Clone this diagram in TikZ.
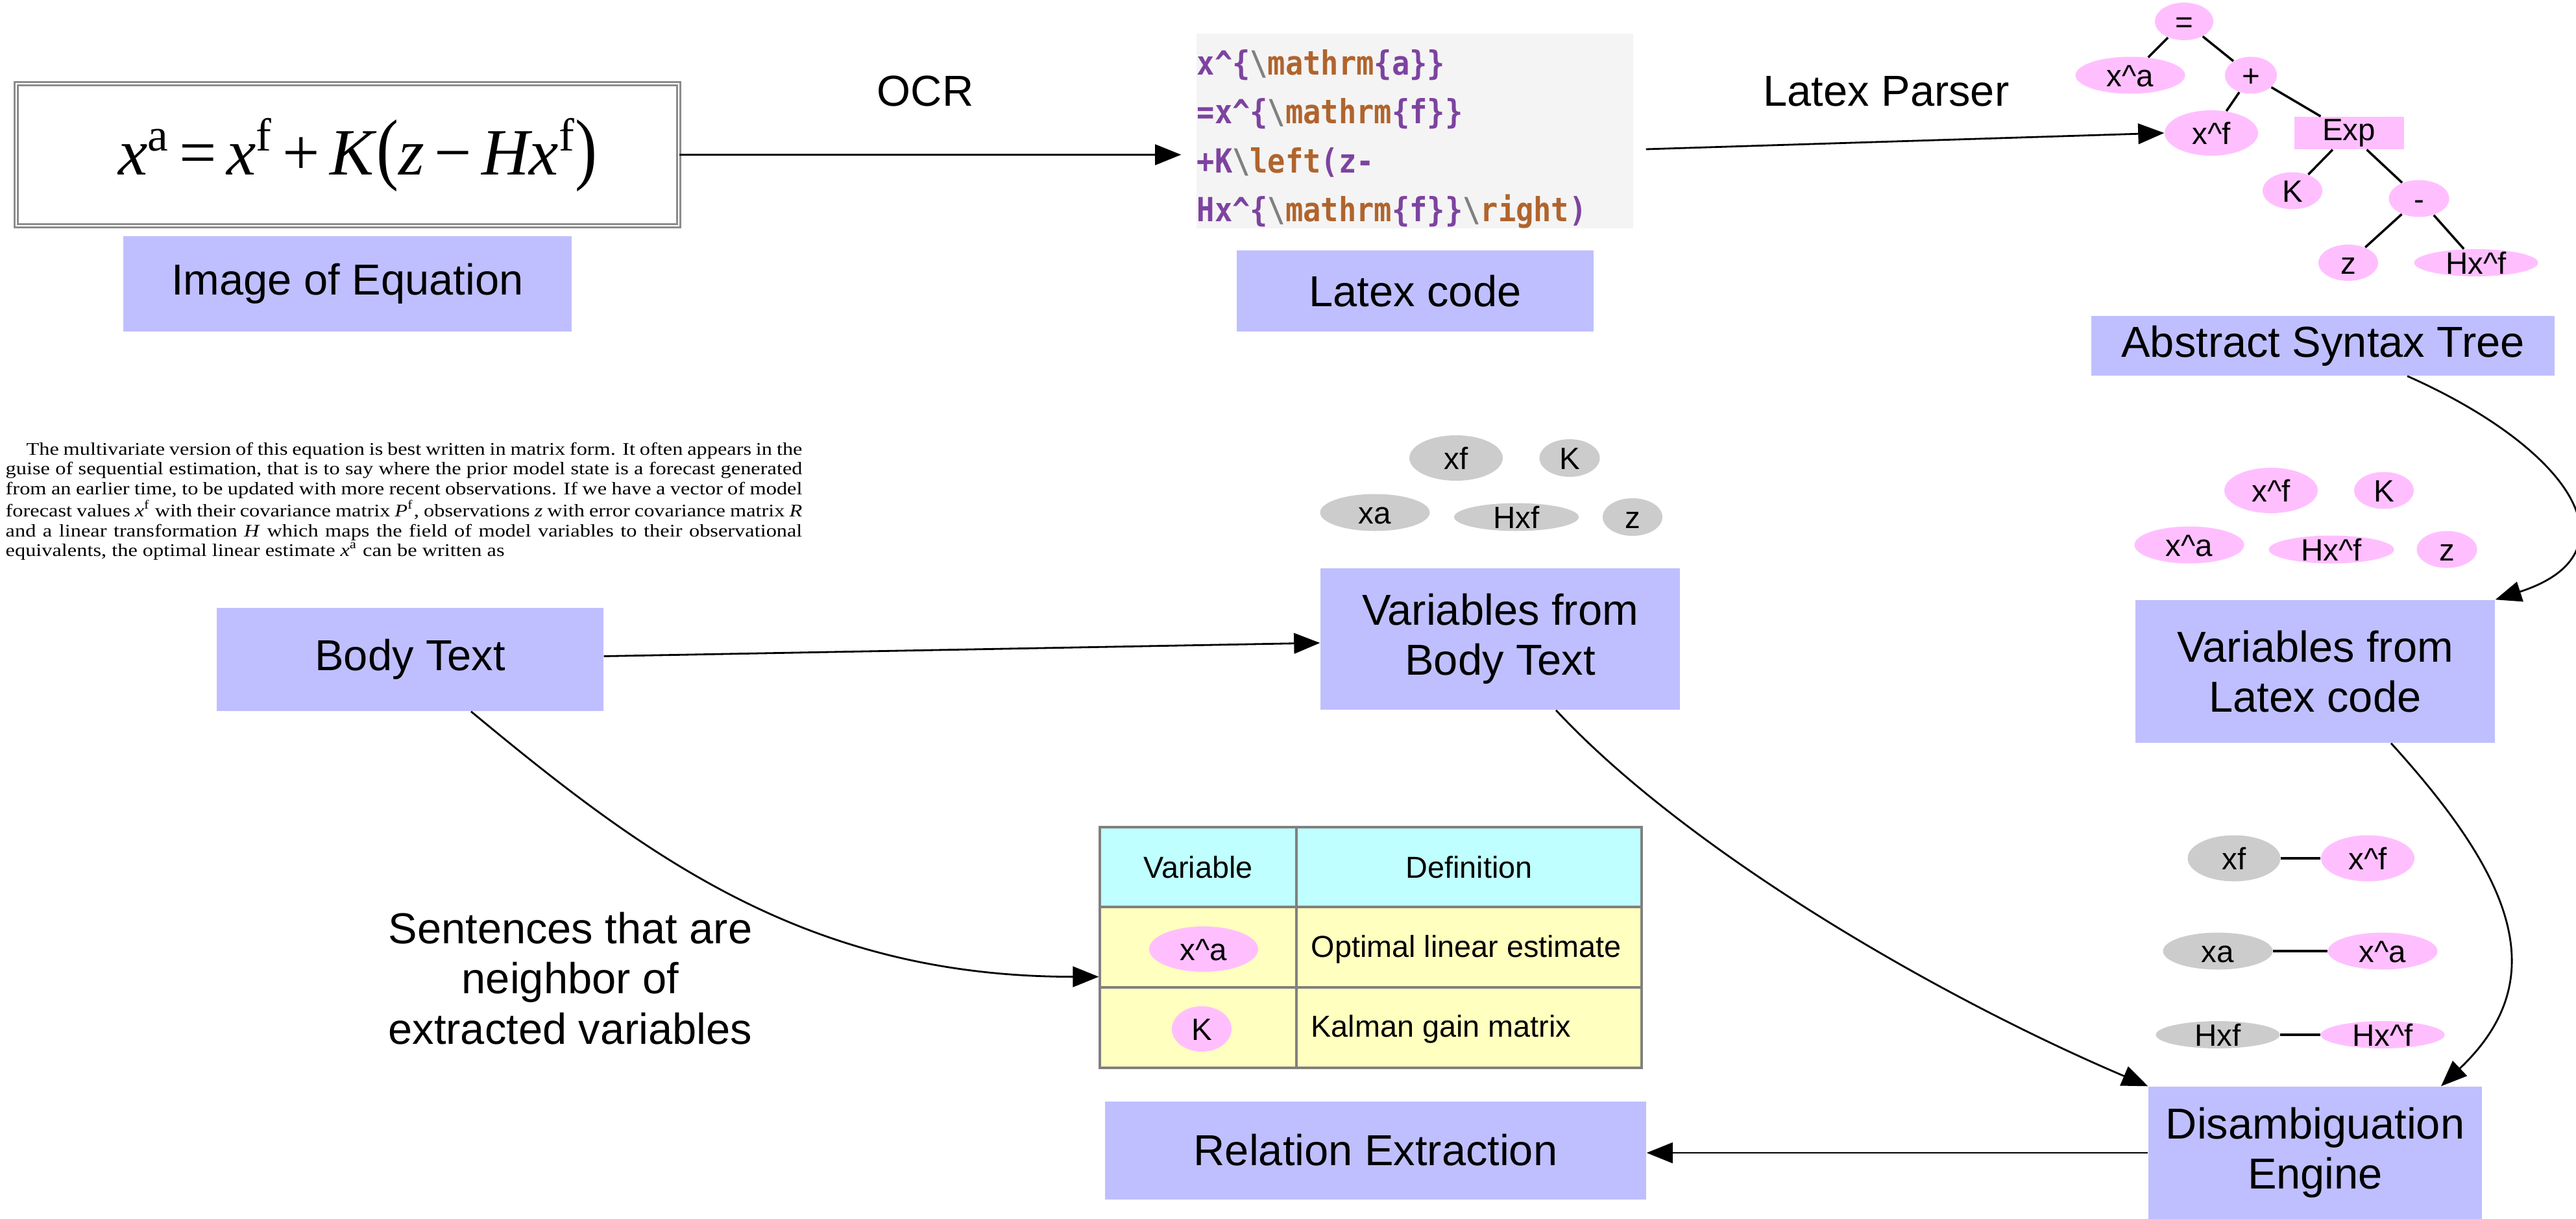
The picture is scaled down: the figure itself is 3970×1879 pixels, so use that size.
\RequirePackage{fix-cm}
\documentclass[tikz,border=0pt]{standalone}
\usepackage[no-math]{fontspec}
\setmainfont{Liberation Sans}
\newfontfamily\codefont{DejaVu Sans Mono}
\newfontfamily\parafont{Liberation Serif}
\usepackage{graphicx}
\usetikzlibrary{shapes.geometric,arrows.meta,calc}
\newdimen\pxu \pxu=0.01cm
\newdimen\parw \parw=10.398cm
\definecolor{lav}{RGB}{191,191,255}
\definecolor{pk}{RGB}{255,191,255}
\definecolor{gy}{RGB}{204,204,204}
\definecolor{cyanc}{RGB}{191,255,255}
\definecolor{yel}{RGB}{255,255,191}
\definecolor{tblgray}{RGB}{128,128,128}
\definecolor{eqgray}{RGB}{140,140,140}
\definecolor{codebg}{RGB}{244,244,244}
\definecolor{cpurple}{RGB}{125,67,160}
\definecolor{cbrown}{RGB}{176,100,45}
\definecolor{cgray}{RGB}{128,128,128}
\newcommand\bigfnt{\fontsize{19}{22}\selectfont}
\newcommand\smallfnt{\fontsize{13.5}{16}\selectfont}
\newcommand\tblfnt{\fontsize{13.3}{16}\selectfont}
\newcommand\ctxt[1]{\smash{\makebox[0pt]{\raisebox{-0.36em}{#1}}}}
\newcommand\cpu[1]{\textcolor{cpurple}{#1}}
\newcommand\cbr[1]{\textcolor{cbrown}{#1}}
\newcommand\bsl{\textcolor{cgray}{\textbackslash}}
\newcommand\codeln[1]{\scalebox{1}[1.13]{#1}}
\newcommand\eqsp{\hspace{0.15em}}
\newcommand\tparen[1]{\scalebox{1}[1.2]{#1}}
\begin{document}
\begin{tikzpicture}[x=0.01cm, y=-0.01cm,
  sz/.style 2 args={minimum width=#1\pxu, minimum height=#2\pxu},
  lavbox/.style={rectangle, fill=lav, inner sep=0pt, align=center, font=\bigfnt},
  pinkel/.style={ellipse, fill=pk, inner sep=0pt, font=\smallfnt},
  grayel/.style={ellipse, fill=gy, inner sep=0pt, font=\smallfnt},
  arr/.style={-{Triangle[length=11.4pt,width=9pt]}, line width=0.8pt},
  treeline/.style={line width=1pt},
  lbl/.style={inner sep=0pt, font=\bigfnt, align=center},
  codeline/.style={anchor=base west, inner sep=0pt, font=\codefont\bfseries\fontsize{12.9}{15}\selectfont},
  tcell/.style={rectangle, draw=tblgray, line width=0.9pt, inner sep=0pt, font=\tblfnt}
]
\useasboundingbox (0,0) rectangle (3970,1879);

% ---------- top row ----------
\node[draw=eqgray, double=white, double distance=0.6pt, line width=0.8pt, inner sep=0pt,
      sz={1021}{219}, font=\parafont\fontsize{29}{32}\selectfont] (eq) at (535.5,238.5)
  {\hspace*{32\pxu}\textit{x}\textsuperscript{a}\eqsp=\eqsp\textit{x}\textsuperscript{f}\eqsp+\eqsp\textit{K}\tparen{(}\textit{z}\eqsp−\eqsp\textit{Hx}\textsuperscript{f}\tparen{)}};
\node[lavbox, sz={691}{147}] (imglab) at (535.5,437.5) {Image of Equation};
\node[lbl, anchor=base] (ocr) at (1426,164) {OCR};

\node[fill=codebg, inner sep=0pt, sz={673}{300}] (code) at (2180.5,202) {};
\node[codeline] (c1) at (1844,116) {\codeln{\cpu{x\textasciicircum\{}\bsl\cbr{mathrm}\cpu{\{a\}\}}}};
\node[codeline] (c2) at (1844,191) {\codeln{\cpu{=x\textasciicircum\{}\bsl\cbr{mathrm}\cpu{\{f\}\}}}};
\node[codeline] (c3) at (1844,266) {\codeln{\cpu{+K}\bsl\cbr{left}\cpu{(z-}}};
\node[codeline] (c4) at (1844,341) {\codeln{\cpu{Hx\textasciicircum\{}\bsl\cbr{mathrm}\cpu{\{f\}\}}\bsl\cbr{right}\cpu{)}}};
\node[lavbox, sz={550}{125}] (ltx) at (2181,448.5) {Latex code};
\node[lbl, anchor=base] (parser) at (2907,164) {Latex Parser};

% ---------- syntax tree ----------
\node[pinkel, sz={90}{58}] (teq) at (3366,33) {\ctxt{=}};
\node[pinkel, sz={169}{57}] (txa) at (3283,116) {\ctxt{x\textasciicircum a}};
\node[pinkel, sz={80}{57}] (tplus) at (3469,116) {\ctxt{+}};
\node[pinkel, sz={144}{70}] (txf) at (3408,205) {\ctxt{x\textasciicircum f}};
\node[rectangle, fill=pk, inner sep=0pt, font=\smallfnt, sz={169}{50}] (texp) at (3620,205) {Exp};
\node[pinkel, sz={92}{57}] (tk) at (3533,294) {\ctxt{K}};
\node[pinkel, sz={93}{57}] (tminus) at (3728,306) {\ctxt{-}};
\node[pinkel, sz={92}{56}] (tz) at (3619,405) {\ctxt{z}};
\node[pinkel, sz={191}{42}] (thxf) at (3816,405) {\ctxt{Hx\textasciicircum f}};
\draw[treeline] (teq) -- (txa);
\draw[treeline] (teq) -- (tplus);
\draw[treeline] (tplus) -- (txf);
\draw[treeline] (tplus) -- (texp);
\draw[treeline] (texp) -- (tk);
\draw[treeline] (texp) -- (tminus);
\draw[treeline] (tminus) -- (tz);
\draw[treeline] (tminus) -- (thxf);
\node[lavbox, sz={714}{92}] (ast) at (3580,533) {Abstract Syntax Tree};

% ---------- variables from latex ----------
\node[pinkel, sz={144}{70}] (lxf) at (3500,756) {\ctxt{x\textasciicircum f}};
\node[pinkel, sz={92}{57}] (lk) at (3674,756) {\ctxt{K}};
\node[pinkel, sz={169}{57}] (lxa) at (3374,840) {\ctxt{x\textasciicircum a}};
\node[pinkel, sz={193}{43}] (lhxf) at (3593,847) {\ctxt{Hx\textasciicircum f}};
\node[pinkel, sz={93}{57}] (lz) at (3771,847) {\ctxt{z}};
\node[lavbox, sz={554}{220}] (vl) at (3568,1035) {Variables from\\Latex code};

% ---------- pairs ----------
\node[grayel, sz={143}{71}] (pxf) at (3443,1323) {\ctxt{xf}};
\node[pinkel, sz={144}{71}] (pxfl) at (3649,1323) {\ctxt{x\textasciicircum f}};
\node[grayel, sz={169}{57}] (pxa) at (3418,1466) {\ctxt{xa}};
\node[pinkel, sz={169}{57}] (pxal) at (3672,1466) {\ctxt{x\textasciicircum a}};
\node[grayel, sz={191}{42}] (phxf) at (3418,1595) {\ctxt{Hxf}};
\node[pinkel, sz={191}{42}] (phxfl) at (3672,1595) {\ctxt{Hx\textasciicircum f}};
\draw[treeline] (pxf) -- (pxfl);
\draw[treeline] (pxa) -- (pxal);
\draw[treeline] (phxf) -- (phxfl);

\node[lavbox, sz={514}{204}] (dis) at (3568,1777) {Disambiguation\\Engine};
\node[lavbox, sz={834}{151}] (rel) at (2120,1773) {Relation Extraction};

% ---------- body text ----------
\node[anchor=base west, inner sep=0pt] (para) at (8,701) {\scalebox{1.18}[1]{\parbox[t]{\parw}{\parafont\fontsize{7.8}{8.68}\selectfont
\makebox[\parw][s]{\hspace*{0.27cm}The multivariate version of this equation is best written in matrix form. It often appears in the}\\
\makebox[\parw][s]{guise of sequential estimation, that is to say where the prior model state is a forecast generated}\\
\makebox[\parw][s]{from an earlier time, to be updated with more recent observations. If we have a vector of model}\\
\makebox[\parw][s]{forecast values \textit{x}\textsuperscript{f} with their covariance matrix \textit{P}\textsuperscript{f}, observations \textit{z} with error covariance matrix \textit{R}}\\
\makebox[\parw][s]{and a linear transformation \textit{H} which maps the field of model variables to their observational}\\
\makebox[\parw][l]{equivalents, the optimal linear estimate \textit{x}\textsuperscript{a} can be written as}}}};
\node[lavbox, sz={596}{159}] (body) at (632,1016.5) {Body Text};

% ---------- variables from body text ----------
\node[grayel, sz={144}{70}] (bxf) at (2244,706) {\ctxt{xf}};
\node[grayel, sz={93}{58}] (bk) at (2419,706) {\ctxt{K}};
\node[grayel, sz={169}{57}] (bxa) at (2119,790) {\ctxt{xa}};
\node[grayel, sz={192}{43}] (bhxf) at (2337,797) {\ctxt{Hxf}};
\node[grayel, sz={92}{58}] (bz) at (2516,797) {\ctxt{z}};
\node[lavbox, sz={554}{218}] (vbt) at (2312,985) {Variables from\\Body Text};

% ---------- table ----------
\node[tcell, fill=cyanc, sz={303}{123}] (h1) at (1846.5,1336.5) {Variable};
\node[tcell, fill=cyanc, sz={532}{123}] (h2) at (2264,1336.5) {Definition};
\node[tcell, fill=yel, sz={303}{124}] (r1c1) at (1846.5,1460) {};
\node[tcell, fill=yel, sz={532}{124}] (r1c2) at (2264,1460) {};
\node[tcell, fill=yel, sz={303}{124}] (r2c1) at (1846.5,1584) {};
\node[tcell, fill=yel, sz={532}{124}] (r2c2) at (2264,1584) {};
\node[pinkel, sz={168}{70}] (vxa) at (1855,1463) {\ctxt{x\textasciicircum a}};
\node[pinkel, sz={92}{70}] (vk) at (1852,1586) {\ctxt{K}};
\node[anchor=west, inner sep=0pt, font=\tblfnt] (d1) at (2020,1463) {Optimal linear estimate};
\node[anchor=west, inner sep=0pt, font=\tblfnt] (d2) at (2020,1586) {Kalman gain matrix};

\node[lbl] (sent) at (879,1508) {Sentences that are\\neighbor of\\extracted variables};

% ---------- connectors ----------
\draw[arr, shorten >=23\pxu] (eq.east) -- (eq.east -| code.west);
\draw[arr] ($(code.east)+(19,28)$) -- (txf.west);
\draw[arr] ($(ast.south)+(130,0)$) .. controls +(250,111) and +(223,-72) .. (vl.north east);
\draw[arr] ($(vl.south)+(117,0)$) .. controls +(188,207) and +(175,-166) .. ($(dis.north)+(194,0)$);
\draw[arr] ($(body.east)+(0,-5)$) -- ($(vbt.west)+(0,6)$);
\draw[arr] ($(body.south)+(94,0)$) .. controls +(270,224) and +(-450,0) .. ($(r1c1.south west)+(0,-18)$);
\draw[arr] ($(vbt.south)+(86,0)$) .. controls +(204,219) and +(-322,-137) .. (dis.north west);
\draw[arr] (dis.west) -- (dis.west -| rel.east);
\end{tikzpicture}
\end{document}
